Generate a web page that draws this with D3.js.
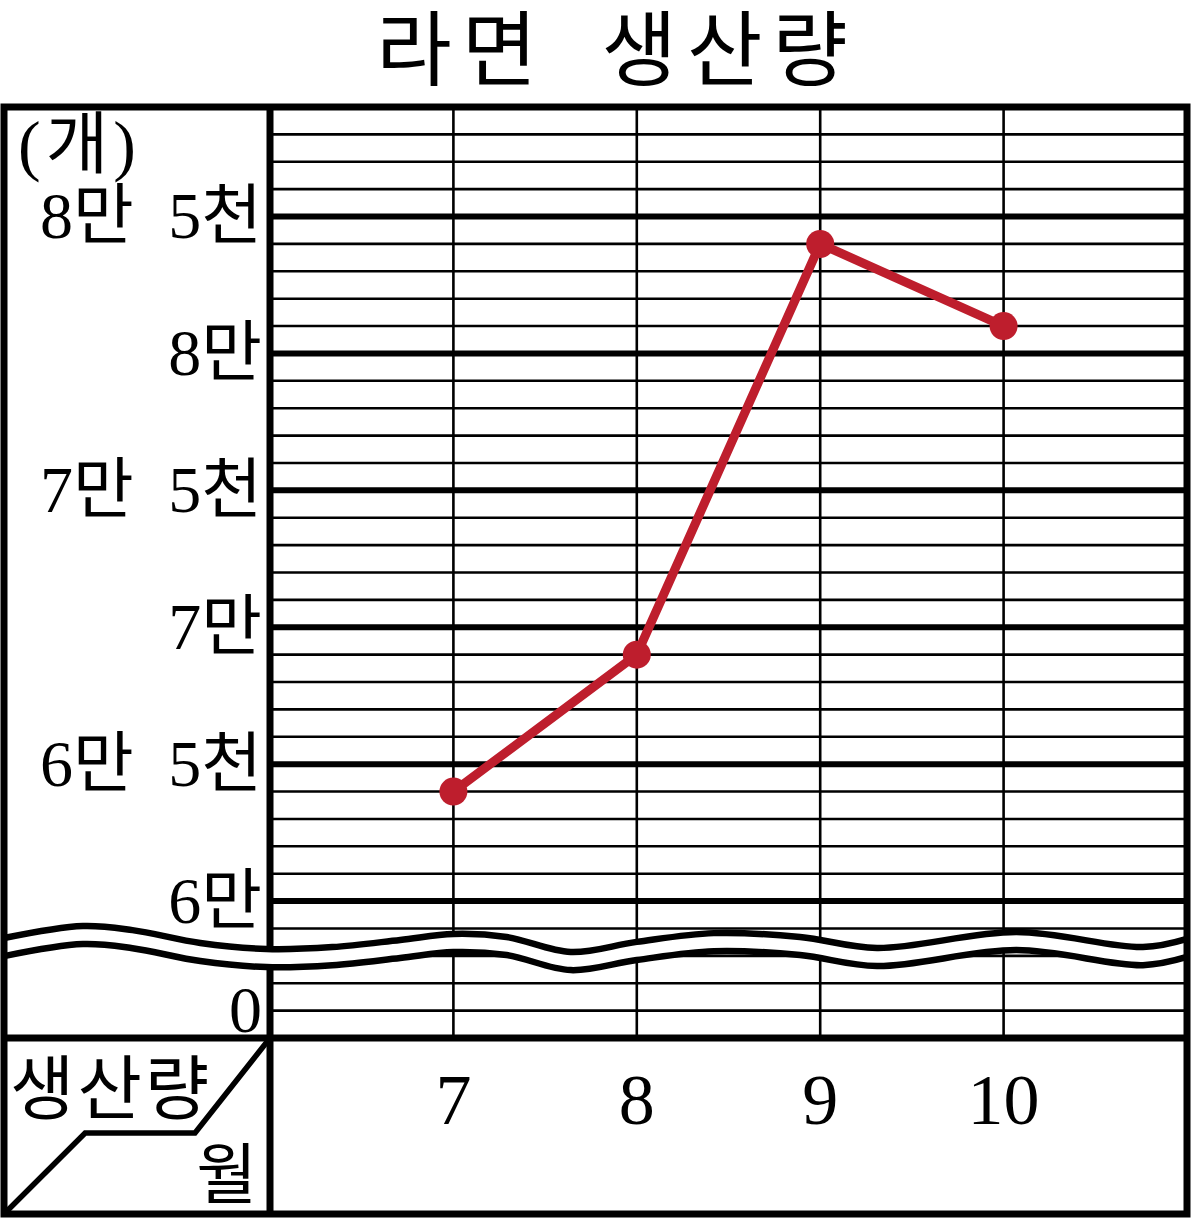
<!DOCTYPE html>
<html>
<head>
<meta charset="utf-8">
<script src="https://cdn.jsdelivr.net/npm/d3@7"></script>
<style>
  html, body { margin: 0; padding: 0; background: #fff; }
  svg { display: block; }
</style>
</head>
<body>
<div id="chart"></div>
<script>
// ---------- data ----------
const months = [7, 8, 9, 10];
const production = [64000, 69000, 84000, 81000];
const xTickLabels = ["7", "8", "9", "10"];
const yTickValues = [0, 60000, 65000, 70000, 75000, 80000, 85000];
const yTickLabels = ["0", "6만", "6만 5천", "7만", "7만 5천", "8만", "8만 5천"];
const titleText = "라면 생산량";
const unitText = "(개)";
const rowHeaderText = "생산량";
const colHeaderText = "월";

// break-symbol wave (month, display value) - top edge
const waveMonths = [4.55, 4.98, 5.25, 5.62, 5.98, 6.34, 6.71, 7.0, 7.29, 7.64, 8.0, 8.42, 8.89, 9.31, 10.07, 10.76, 11.0];
const waveValues = [58650, 59090, 58940, 58470, 58250, 58320, 58580, 58800, 58690, 58140, 58510, 58830, 58690, 58290, 58870, 58320, 58620];

// ---------- layout ----------
const W = 1193, H = 1219;
const outerLeft = 4, plotLeft = 270, plotRight = 1187;
const plotTop = 107, plotBottom = 1038, outerBottom = 1214;
const color = "#BE1E2D";

const svg = d3.select("#chart").append("svg").attr("width", W).attr("height", H);

const x = d3.scaleLinear().domain([6, 11]).range([plotLeft, plotRight]);
const y = d3.scaleLinear().domain([55000, 89000]).range([plotBottom, plotTop]);
// axis break: values below 59000 shift up so that 0 sits at 56000 on the display scale
const BREAK = 59000, SHIFT = 56000;
const disp = v => (v < BREAK ? v + SHIFT : v);
const yPos = v => y(disp(v));

// ---------- grid ----------
const gridVals = d3.range(56000, 89000, 1000);
svg.append("g").selectAll("line").data(gridVals).join("line")
  .attr("x1", plotLeft).attr("x2", plotRight)
  .attr("y1", d => y(d)).attr("y2", d => y(d))
  .attr("stroke", "#000")
  .attr("stroke-width", d => (d % 5000 === 0 ? 6 : 2.6));

svg.append("g").selectAll("line").data(months).join("line")
  .attr("x1", d => x(d)).attr("x2", d => x(d))
  .attr("y1", plotTop).attr("y2", plotBottom)
  .attr("stroke", "#000").attr("stroke-width", 2.6);

// divider between label column and plot
svg.append("line")
  .attr("x1", plotLeft).attr("x2", plotLeft)
  .attr("y1", plotTop).attr("y2", outerBottom)
  .attr("stroke", "#000").attr("stroke-width", 7);

// ---------- break wave ----------
const waveData = waveMonths.map((m, i) => ({ m, v: waveValues[i] }));
const gap = 660;
const curve = d3.curveCatmullRom;
svg.append("path").datum(waveData)
  .attr("d", d3.area().x(d => x(d.m)).y0(d => y(d.v - gap)).y1(d => y(d.v)).curve(curve))
  .attr("fill", "#fff");
[0, gap].forEach(off => {
  svg.append("path").datum(waveData)
    .attr("d", d3.line().x(d => x(d.m)).y(d => y(d.v - off)).curve(curve))
    .attr("fill", "none").attr("stroke", "#000").attr("stroke-width", 6.5);
});

// ---------- frame ----------
svg.append("rect")
  .attr("x", outerLeft).attr("y", plotTop)
  .attr("width", plotRight - outerLeft).attr("height", outerBottom - plotTop)
  .attr("fill", "none").attr("stroke", "#000").attr("stroke-width", 7);
svg.append("line")
  .attr("x1", outerLeft).attr("x2", plotRight)
  .attr("y1", plotBottom).attr("y2", plotBottom)
  .attr("stroke", "#000").attr("stroke-width", 7);

// header cell diagonal
const cw = plotLeft - outerLeft, ch = outerBottom - plotBottom;
const diag = [[1, 0], [0.718, 0.54], [0.305, 0.54], [0, 1]];
svg.append("path")
  .attr("d", d3.line()(diag.map(p => [outerLeft + p[0] * cw, plotBottom + p[1] * ch])))
  .attr("fill", "none").attr("stroke", "#000").attr("stroke-width", 5.5)
  .attr("stroke-linejoin", "miter");

// ---------- data line ----------
const pts = months.map((m, i) => ({ m, v: production[i] }));
svg.append("path").datum(pts)
  .attr("d", d3.line().x(d => x(d.m)).y(d => yPos(d.v)))
  .attr("fill", "none").attr("stroke", color).attr("stroke-width", 9)
  .attr("stroke-linejoin", "round");
svg.append("g").selectAll("circle").data(pts).join("circle")
  .attr("cx", d => x(d.m)).attr("cy", d => yPos(d.v)).attr("r", 14)
  .attr("fill", color);

// ---------- text ----------
const serif = "'Liberation Serif', 'Noto Sans CJK KR', serif";
const kr = "'Noto Sans CJK KR', sans-serif";

svg.append("text")
  .attr("x", 617).attr("y", 43)
  .attr("text-anchor", "middle").attr("dominant-baseline", "central")
  .attr("font-family", kr).attr("font-size", 82)
  .attr("letter-spacing", 10).attr("word-spacing", 26)
  .text(titleText);

svg.append("g").selectAll("text").data(yTickValues).join("text")
  .attr("x", 262).attr("y", d => yPos(d) - 1)
  .attr("text-anchor", "end").attr("dominant-baseline", "central")
  .attr("font-family", serif).attr("font-size", 66)
  .attr("word-spacing", 18)
  .text((d, i) => yTickLabels[i]);

svg.append("text")
  .attr("x", 18).attr("y", 145)
  .attr("dominant-baseline", "central")
  .attr("font-family", serif).attr("font-size", 68)
  .attr("letter-spacing", 5)
  .text(unitText);

svg.append("g").selectAll("text").data(months).join("text")
  .attr("x", d => x(d)).attr("y", 1100)
  .attr("text-anchor", "middle").attr("dominant-baseline", "central")
  .attr("font-family", serif).attr("font-size", 72)
  .text((d, i) => xTickLabels[i]);

svg.append("text")
  .attr("x", 10).attr("y", 1083)
  .attr("dominant-baseline", "central")
  .attr("font-family", kr).attr("font-size", 70)
  .attr("letter-spacing", 3)
  .text(rowHeaderText);

svg.append("text")
  .attr("x", 257).attr("y", 1169)
  .attr("text-anchor", "end").attr("dominant-baseline", "central")
  .attr("font-family", kr).attr("font-size", 66)
  .text(colHeaderText);
</script>
</body>
</html>
